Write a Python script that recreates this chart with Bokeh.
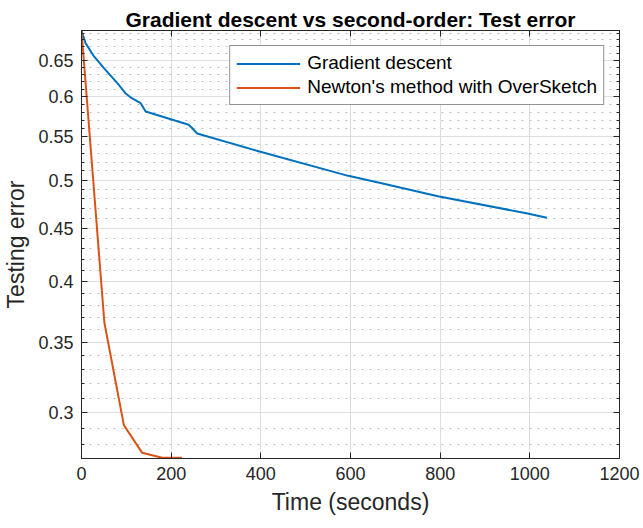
from bokeh.plotting import figure
from bokeh.models import (Range1d, FixedTicker, LinearAxis, LogAxis, Legend, LegendItem, Title)
from bokeh.embed import file_html
from bokeh.resources import INLINE

# ---- data ----
gd_time = [0, 9, 28, 50, 80, 98, 112, 132, 143, 239, 246, 258, 399, 595, 662, 795, 995, 1038]
gd_error = [0.694, 0.675, 0.6556, 0.639, 0.6183, 0.6049, 0.5983, 0.5917, 0.5811, 0.5644,
            0.5607, 0.5537, 0.5319, 0.5046, 0.4973, 0.4826, 0.4646, 0.4602]
newton_time = [0, 51, 94.5, 135, 180, 224]
newton_error = [0.694, 0.3658, 0.2921, 0.275, 0.2719, 0.2719]

x_ticks = [0, 200, 400, 600, 800, 1000, 1200]
y_ticks = [0.3, 0.35, 0.4, 0.45, 0.5, 0.55, 0.6, 0.65]
y_minor = [round(0.27 + 0.01 * i, 2) for i in range(43)]

title_text = "Gradient descent vs second-order: Test error"
x_label = "Time (seconds)"
y_label = "Testing error"
series_names = ["Gradient descent", "Newton's method with OverSketch"]

FONT = "Liberation Sans"
TXT = "#262626"
BLUE = "#0072BD"
ORANGE = "#D95319"

p = figure(frame_width=538, frame_height=428, y_axis_type="log",
           x_range=Range1d(0, 1200), y_range=Range1d(0.2715, 0.694),
           output_backend="svg", toolbar_location=None,
           min_border_left=80, min_border_right=24, min_border_top=30, min_border_bottom=68,
           background_fill_color="white", border_fill_color="white")

p.title = Title(text=title_text, align="center", text_font=FONT, text_font_size="21px",
                text_font_style="bold", text_color="black", standoff=0, offset=0)

xt = FixedTicker(ticks=x_ticks)
yt = FixedTicker(ticks=y_ticks, minor_ticks=y_minor)

xa = p.xaxis[0]
xa.ticker = xt
ya = p.yaxis[0]
ya.ticker = yt
ya.major_label_overrides = {v: ("%g" % v) for v in y_ticks}

for ax in (xa, ya):
    ax.axis_line_color = TXT
    ax.major_tick_line_color = TXT
    ax.minor_tick_line_color = TXT
    ax.major_tick_in = 6
    ax.major_tick_out = 0
    ax.minor_tick_in = 3
    ax.minor_tick_out = 0
    ax.major_label_text_font = FONT
    ax.major_label_text_font_size = "18px"
    ax.major_label_text_color = TXT
    ax.axis_label_text_font = FONT
    ax.axis_label_text_font_size = "23px"
    ax.axis_label_text_font_style = "normal"
    ax.axis_label_text_color = TXT
xa.minor_tick_line_color = None
xa.axis_label = x_label
ya.axis_label = y_label
xa.major_label_standoff = 8
ya.major_label_standoff = 8
xa.axis_label_standoff = 6
ya.axis_label_standoff = 6

# top / right axes (ticks only, labels not painted)
top = LinearAxis(ticker=xt, major_label_text_font_size="1px", major_label_text_color=None,
                 major_label_standoff=0,
                 major_tick_in=6, major_tick_out=0, minor_tick_line_color=None,
                 axis_line_color=TXT, major_tick_line_color=TXT)
right = LogAxis(ticker=yt, major_label_text_font_size="1px", major_label_text_color=None,
                major_label_standoff=0,
                major_tick_in=6, major_tick_out=0, minor_tick_in=3, minor_tick_out=0,
                axis_line_color=TXT, major_tick_line_color=TXT, minor_tick_line_color=TXT)
p.add_layout(top, "above")
p.add_layout(right, "right")

p.outline_line_color = TXT

# grids
p.xgrid.grid_line_color = "#dedede"
p.ygrid.grid_line_color = "#dedede"
p.ygrid.minor_grid_line_color = "#bdbdbd"
p.ygrid.minor_grid_line_dash = "2 6"

r1 = p.line(gd_time, gd_error, line_color=BLUE, line_width=2)
r2 = p.line(newton_time, newton_error, line_color=ORANGE, line_width=2)

legend = Legend(items=[LegendItem(label=series_names[0], renderers=[r1]),
                       LegendItem(label=series_names[1], renderers=[r2])],
                location="top_right", margin=15, padding=6, spacing=2,
                glyph_width=64, glyph_height=21, label_standoff=7,
                label_text_font=FONT, label_text_font_size="19px", label_text_color="black",
                border_line_color="#262626", border_line_width=1,
                background_fill_color="white", background_fill_alpha=1)
p.add_layout(legend)

open("out.html", "w").write(file_html(p, INLINE))
